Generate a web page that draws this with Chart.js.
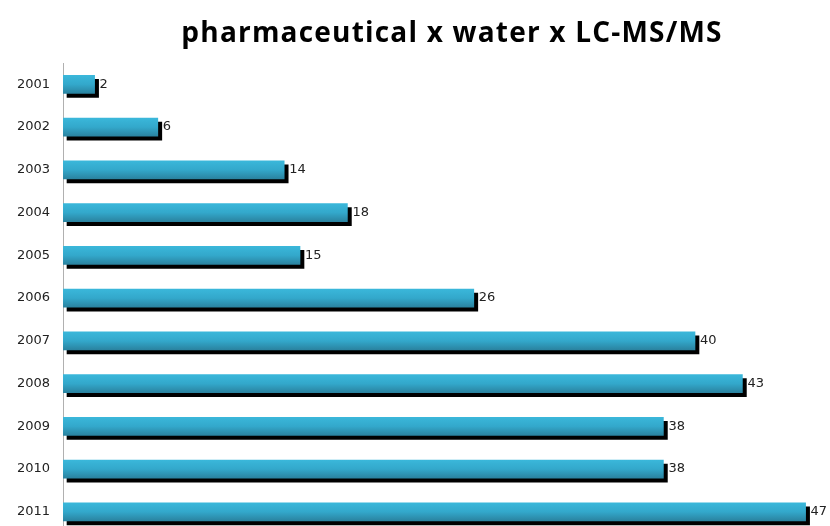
<!DOCTYPE html>
<html>
<head>
<meta charset="utf-8">
<script src="https://cdn.jsdelivr.net/npm/chart.js@4/dist/chart.umd.min.js"></script>
<style>
  html, body { margin: 0; padding: 0; background: #fff; overflow: hidden; }
</style>
</head>
<body>
<canvas id="pubChart" width="830" height="554"></canvas>
<script>
const chartTitle = "pharmaceutical x water x LC-MS/MS";
const years = ["2001", "2002", "2003", "2004", "2005", "2006", "2007", "2008", "2009", "2010", "2011"];
const counts = [2, 6, 14, 18, 15, 26, 40, 43, 38, 38, 47];

const BAR_H = 18;

// drop shadow under the bars, labels after, title on top
const barExtras = {
    id: "barExtras",
    beforeDatasetsDraw(chart) {
        const c = chart.ctx;
        c.save();
        c.shadowColor = "#000";
        c.shadowOffsetX = 4;
        c.shadowOffsetY = 4;
        c.shadowBlur = 0;
    },
    afterDatasetsDraw(chart) {
        const c = chart.ctx;
        c.restore();
        const meta = chart.getDatasetMeta(0);
        c.save();
        c.font = "13px 'DejaVu Sans'";
        c.fillStyle = "#222";
        c.textBaseline = "middle";
        c.textAlign = "left";
        meta.data.forEach((bar, i) => {
            c.fillText(String(counts[i]), bar.x + 5, bar.y);
        });
        c.restore();
    },
    afterDraw(chart) {
        const c = chart.ctx;
        c.save();
        c.font = "bold 28px 'Open Sans'";
        c.letterSpacing = "1.2px";
        c.fillStyle = "#000";
        c.textAlign = "center";
        c.textBaseline = "alphabetic";
        c.fillText(chartTitle, 452, 42);
        c.letterSpacing = "0px";
        c.restore();
    }
};

new Chart(document.getElementById("pubChart"), {
    type: "bar",
    data: {
        labels: years,
        datasets: [{
            data: counts,
            barThickness: BAR_H,
            borderWidth: 0,
            backgroundColor: (ctx) => {
                const y = ctx.chart.scales.y;
                if (!y || ctx.dataIndex === undefined) return "#34a9cc";
                const cy = y.getPixelForValue(ctx.dataIndex);
                if (!Number.isFinite(cy)) return "#34a9cc";
                const g = ctx.chart.ctx.createLinearGradient(0, cy - BAR_H / 2, 0, cy + BAR_H / 2);
                g.addColorStop(0, "#3ab7da");
                g.addColorStop(0.5, "#33a8cb");
                g.addColorStop(1, "#2a83a0");
                return g;
            },
        }],
    },
    options: {
        indexAxis: "y",
        responsive: false,
        animation: false,
        layout: { padding: { top: 63, right: 8.6, bottom: 0, left: 0 } },
        scales: {
            x: {
                display: false,
                min: 0,
                max: 48,
            },
            y: {
                afterFit: (s) => { s.width = 63; },
                grid: { display: false, drawTicks: false },
                border: { color: "#b0b0b0", width: 1 },
                ticks: {
                    color: "#222",
                    padding: 13,
                    font: { family: "DejaVu Sans", size: 13 },
                },
            },
        },
        plugins: {
            legend: { display: false },
            title: { display: false },
            tooltip: { enabled: false },
        },
    },
    plugins: [barExtras],
});
</script>
</body>
</html>
